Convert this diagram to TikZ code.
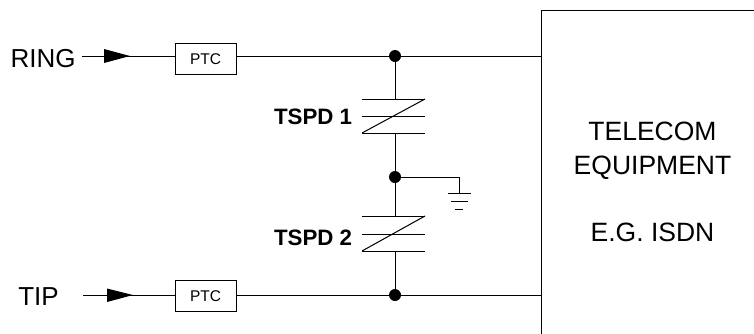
\documentclass[tikz,border=0pt]{standalone}
\usepackage{fontspec}
\setmainfont{Liberation Sans}
\tikzset{
  wire/.style={line width=1pt},
  ptc/.style={draw, line width=1pt, minimum width=61pt, minimum height=31pt, inner sep=0pt, font=\fontsize{15.5}{18}\selectfont},
  dot/.style={circle, fill=black, minimum size=12pt, inner sep=0pt},
  lbl/.style={font=\fontsize{26}{31}\selectfont},
  tspd/.style={font=\fontsize{22.3}{25}\selectfont\bfseries, anchor=west},
  equip/.style={font=\fontsize{26.5}{33.5}\selectfont, align=center},
}
\begin{document}
\begin{tikzpicture}[x=1pt, y=-1pt]
\useasboundingbox (0,0) rectangle (754,333);
\node[lbl] (ring) at (43,59) {RING};
\node[lbl] (tip) at (38.5,297) {TIP};
\node[ptc] (ptc1) at (205.5,59) {PTC};
\node[ptc] (ptc2) at (205.5,296) {PTC};
\node[dot] (top) at (395,56) {};
\node[dot] (mid) at (395,177) {};
\node[dot] (bot) at (395,295) {};
\coordinate (ringin) at (82,56);
\coordinate (tipin) at (83,295);
\coordinate (eqtop) at (541.5,56);
\coordinate (eqbot) at (541.5,295);
\node[tspd] (t1) at (270.5,117) {TSPD 1};
\node[tspd] (t2) at (270.5,238) {TSPD 2};
\node[equip] (equip) at (652.5,182) {TELECOM\\EQUIPMENT\\[33.5pt]E.G. ISDN};
% equipment box
\draw[wire] (541.5,340) -- (541.5,10) -- (760,10);
% lines
\draw[wire] (ringin) -- (ptc1.west |- ringin);
\draw[wire] (ptc1.east |- top) -- (top) -- (eqtop);
\draw[wire] (tipin) -- (ptc2.west |- tipin);
\draw[wire] (ptc2.east |- bot) -- (bot) -- (eqbot);
\fill (104,49) -- (130,56) -- (104,63) -- cycle;
\fill (107,288.5) -- (133,295) -- (107,302) -- cycle;
% TSPD
\draw[wire] (top) -- (395,99);
\draw[wire] (362,99) -- (425,99) (362,116) -- (425,116) (362,133) -- (425,133);
\draw[wire] (362,133) -- (425,99);
\draw[wire] (395,133) -- (mid) -- (395,216);
\draw[wire] (362,216) -- (425,216) (362,234) -- (425,234) (362,251) -- (425,251);
\draw[wire] (362,251) -- (425,216);
\draw[wire] (395,251) -- (bot);
% ground
\draw[wire] (mid) -- (459,177) -- (459,193.5);
\draw[wire] (448,193.5) -- (471,193.5) (451,201) -- (468,201) (455,209) -- (463,209);
\end{tikzpicture}
\end{document}
